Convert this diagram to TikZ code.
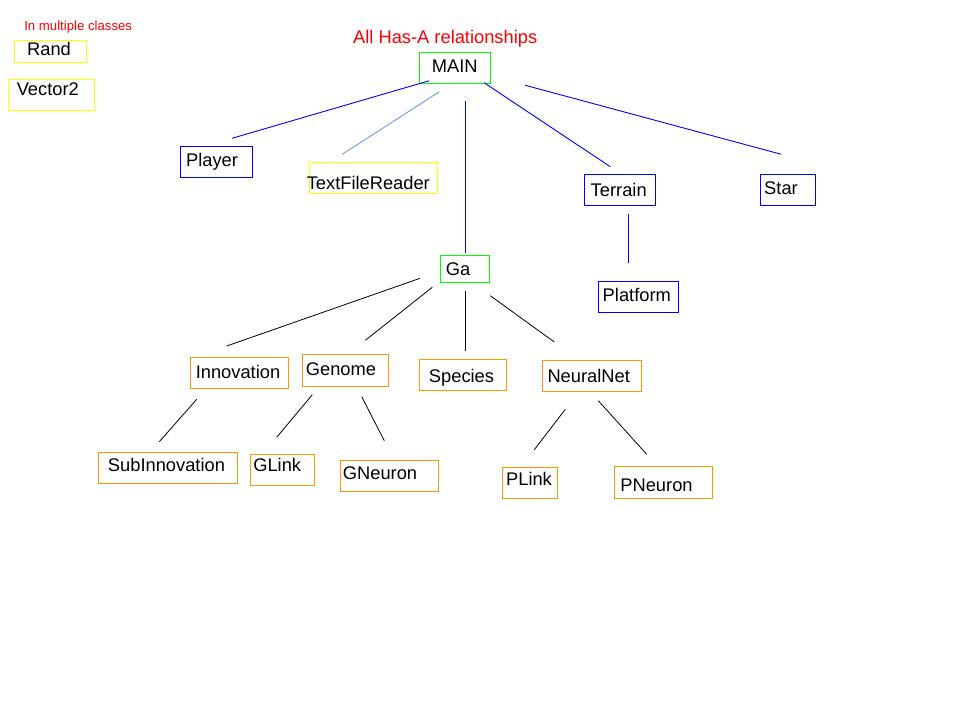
\documentclass[tikz,border=0pt]{standalone}
\usepackage{fontspec}
\setmainfont{Liberation Sans}

\definecolor{boxgreen}{RGB}{0,255,0}
\definecolor{boxyellow}{RGB}{255,255,0}
\definecolor{boxblue}{RGB}{0,0,255}
\definecolor{boxorange}{RGB}{255,153,0}
\definecolor{lightlink}{RGB}{109,158,235}

\tikzstyle{classbox} = [rectangle, line width=1pt, inner sep=0pt]
\tikzstyle{classname} = [inner sep=0pt, text height=13.1pt, text depth=0pt,
font=\fontsize{18.3}{22}\selectfont]
\tikzstyle{smallnote} = [inner sep=0pt, text height=9.4pt, text depth=0pt,
text=red, font=\fontsize{13.2}{16}\selectfont]
\tikzstyle{haslink} = [line width=0.9pt, draw=boxblue]
\tikzstyle{galink} = [line width=0.8pt, draw=black]

\begin{document}
\begin{tikzpicture}[x=1pt, y=-1pt]

  \path[fill=white, use as bounding box] (0,0) rectangle (960,720);

  % notes
  \node (multinote) [smallnote] at (78.2,25.8) {In multiple classes};
  \node (title) [classname, text=red] at (445.2,36.7) {All Has-A relationships};

  % boxes
  \node (rand) [classbox, draw=boxyellow, minimum width=72.4pt, minimum height=22.3pt] at (50.5,51.8) {};
  \node (vector) [classbox, draw=boxyellow, minimum width=86.4pt, minimum height=30.7pt] at (51.5,94.7) {};
  \node (main) [classbox, draw=boxgreen, minimum width=71pt, minimum height=31.3pt] at (454.8,67.7) {};
  \node (player) [classbox, draw=boxblue, minimum width=71.6pt, minimum height=31.3pt] at (216.5,161.7) {};
  \node (reader) [classbox, draw=boxyellow, minimum width=128pt, minimum height=31pt] at (373.3,177.8) {};
  \node (terrain) [classbox, draw=boxblue, minimum width=71pt, minimum height=31pt] at (620,189.8) {};
  \node (star) [classbox, draw=boxblue, minimum width=55pt, minimum height=31pt] at (787.8,189.8) {};
  \node (platform) [classbox, draw=boxblue, minimum width=80.4pt, minimum height=31pt] at (638.5,296.8) {};
  \node (ga) [classbox, draw=boxgreen, minimum width=49pt, minimum height=26.7pt] at (465,269.3) {};
  \node (innovation) [classbox, draw=boxorange, minimum width=98pt, minimum height=31pt] at (239.7,372.8) {};
  \node (genome) [classbox, draw=boxorange, minimum width=86.4pt, minimum height=32.4pt] at (345.5,370.5) {};
  \node (species) [classbox, draw=boxorange, minimum width=86.7pt, minimum height=31pt] at (463.3,374.5) {};
  \node (neuralnet) [classbox, draw=boxorange, minimum width=99.4pt, minimum height=31pt] at (592,375.8) {};
  \node (subinnovation) [classbox, draw=boxorange, minimum width=139pt, minimum height=31pt] at (167.8,467.8) {};
  \node (glink) [classbox, draw=boxorange, minimum width=63.6pt, minimum height=31.4pt] at (282.5,470) {};
  \node (gneuron) [classbox, draw=boxorange, minimum width=98pt, minimum height=30.7pt] at (389.3,475.7) {};
  \node (plink) [classbox, draw=boxorange, minimum width=55pt, minimum height=31pt] at (529.8,482.8) {};
  \node (pneuron) [classbox, draw=boxorange, minimum width=98pt, minimum height=32pt] at (663.3,482.3) {};

  % class names
  \node (randname) [classname] at (49,49.2) {Rand};
  \node (vectorname) [classname] at (47.8,89.2) {Vector2};
  \node (mainname) [classname] at (454.7,66.2) {MAIN};
  \node (playername) [classname] at (212,160) {Player};
  \node (readername) [classname] at (368.3,183) {TextFileReader};
  \node (terrainname) [classname] at (618.7,190) {Terrain};
  \node (starname) [classname] at (781,187.5) {Star};
  \node (platformname) [classname] at (636.8,295) {Platform};
  \node (ganame) [classname] at (458,269.3) {Ga};
  \node (innovationname) [classname] at (238,371.7) {Innovation};
  \node (genomename) [classname] at (341,369.2) {Genome};
  \node (speciesname) [classname] at (461.5,376) {Species};
  \node (neuralnetname) [classname] at (588.7,376) {NeuralNet};
  \node (subinnovationname) [classname] at (166.5,465.3) {SubInnovation};
  \node (glinkname) [classname] at (277.2,464.7) {GLink};
  \node (gneuronname) [classname] at (380,472.8) {GNeuron};
  \node (plinkname) [classname] at (529,479.2) {PLink};
  \node (pneuronname) [classname] at (656.5,485.2) {PNeuron};

  % line ends
  \coordinate (main-player) at (429.3,80.7);
  \coordinate (player-up) at (232,138.3);
  \coordinate (main-reader) at (439.3,91.7);
  \coordinate (reader-up) at (342.3,154.3);
  \coordinate (main-ga) at (465.3,101.3);
  \coordinate (ga-up) at (465.3,253.3);
  \coordinate (main-terrain) at (484,82.7);
  \coordinate (terrain-up) at (610.3,166.7);
  \coordinate (main-star) at (525.3,85.3);
  \coordinate (star-up) at (781.3,154.3);
  \coordinate (terrain-platform) at (628.3,214.3);
  \coordinate (platform-up) at (628.3,263.3);
  \coordinate (ga-innovation) at (420,278.3);
  \coordinate (innovation-up) at (226.7,346);
  \coordinate (ga-genome) at (432.3,287.3);
  \coordinate (genome-up) at (365.3,340.3);
  \coordinate (ga-species) at (465.3,290.7);
  \coordinate (species-up) at (465.3,351);
  \coordinate (ga-neuralnet) at (490.3,295.7);
  \coordinate (neuralnet-up) at (554.3,342);
  \coordinate (innovation-sub) at (196.7,399.3);
  \coordinate (subinnovation-up) at (159.3,441.7);
  \coordinate (genome-glink) at (312.3,394.7);
  \coordinate (glink-up) at (276.7,437.3);
  \coordinate (genome-gneuron) at (361.7,396.7);
  \coordinate (gneuron-up) at (384.3,440.7);
  \coordinate (neuralnet-plink) at (565.3,409.3);
  \coordinate (plink-up) at (534.3,449.7);
  \coordinate (neuralnet-pneuron) at (598.3,400.7);
  \coordinate (pneuron-up) at (646.7,454.3);

  \draw [haslink] (main-player) -- (player-up);
  \draw [haslink, draw=lightlink] (main-reader) -- (reader-up);
  \draw [haslink] (main-ga) -- (ga-up);
  \draw [haslink] (main-terrain) -- (terrain-up);
  \draw [haslink] (main-star) -- (star-up);
  \draw [haslink] (terrain-platform) -- (platform-up);

  \draw [galink] (ga-innovation) -- (innovation-up);
  \draw [galink] (ga-genome) -- (genome-up);
  \draw [galink] (ga-species) -- (species-up);
  \draw [galink] (ga-neuralnet) -- (neuralnet-up);
  \draw [galink] (innovation-sub) -- (subinnovation-up);
  \draw [galink] (genome-glink) -- (glink-up);
  \draw [galink] (genome-gneuron) -- (gneuron-up);
  \draw [galink] (neuralnet-plink) -- (plink-up);
  \draw [galink] (neuralnet-pneuron) -- (pneuron-up);

\end{tikzpicture}
\end{document}
